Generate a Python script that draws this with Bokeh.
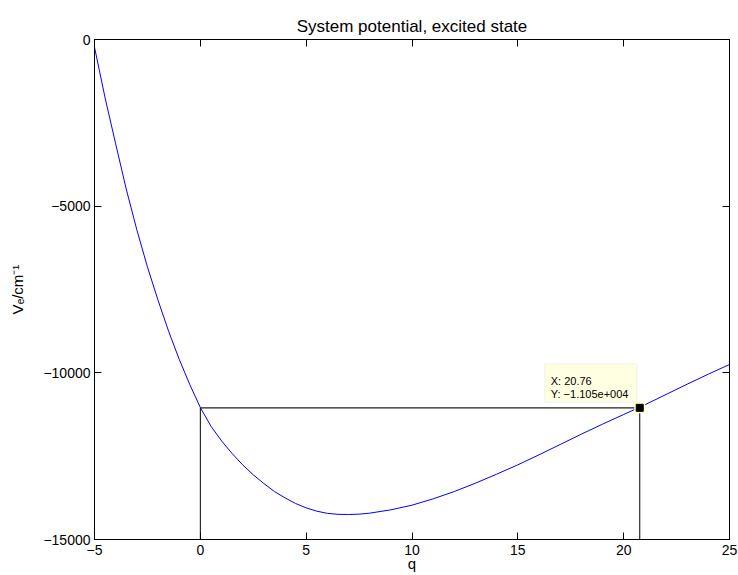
import math
from bokeh.plotting import figure
from bokeh.models import Range1d, FixedTicker, LinearAxis, Label, BoxAnnotation
from bokeh.embed import file_html
from bokeh.resources import INLINE

# ---- data ----
q_vals = [-5, -4.5, -4, -3.5, -3, -2.5, -2, -1.5, -1, -0.5, 0, 0.5, 1, 1.5, 2, 2.5, 3, 3.5,
          4, 4.5, 5, 5.5, 6, 6.5, 7, 7.5, 8, 9, 10, 11, 12, 13, 14, 15, 16, 17, 18, 19, 20,
          21, 22, 23, 24, 25]
v_vals = [-230, -1750, -3130, -4490, -5710, -6820, -7820, -8750, -9590, -10350, -11040,
          -11600, -12040, -12420, -12760, -13060, -13320, -13560, -13750, -13920, -14050,
          -14150, -14215, -14245, -14250, -14240, -14210, -14110, -13970, -13780, -13560,
          -13310, -13040, -12760, -12460, -12150, -11840, -11540, -11250, -10960, -10650,
          -10340, -10040, -9750]

tip_x = 20.76
tip_y = -11050
ref_x = 0

x_ticks = [-5, 0, 5, 10, 15, 20, 25]
x_tick_labels = ["\u22125", "0", "5", "10", "15", "20", "25"]
y_ticks = [-15000, -10000, -5000, 0]
y_tick_labels = ["\u221215000", "\u221210000", "\u22125000", "0"]

title_text = "System potential, excited state"
xlabel_text = "q"
ylabel_text = "V\u2091/cm\u207b\u00b9"

# ---- layout ----
W, H = 738, 575
L, R, T, B = 94, 9, 39, 36
X0, X1 = -5, 25
Y0, Y1 = -15000, 0
fw = W - L - R
fh = H - T - B
FONT = "Liberation Sans"


def dx(px):
    return X0 + (px - L) * (X1 - X0) / fw


def dy(py):
    return Y1 - (py - T) * (Y1 - Y0) / fh


def tpx(x):
    return L + (x - X0) * fw / (X1 - X0)


def tpy(y):
    return T + (Y1 - y) * fh / (Y1 - Y0)


p = figure(width=W, height=H, x_range=Range1d(X0, X1), y_range=Range1d(Y0, Y1),
           output_backend="svg", toolbar_location=None, title=title_text,
           min_border_left=L, min_border_right=R, min_border_top=T, min_border_bottom=B)
p.background_fill_color = "white"
p.border_fill_color = "white"
p.outline_line_color = "black"
p.outline_line_width = 1
p.xgrid.visible = False
p.ygrid.visible = False

p.title.align = "center"
p.title.text_font = FONT
p.title.text_font_size = "17px"
p.title.text_font_style = "normal"
p.title.text_color = "black"
p.title.standoff = 8


def style_axis(ax, ticks, labels, standoff):
    ax.ticker = FixedTicker(ticks=ticks)
    ax.major_label_overrides = {t: s for t, s in zip(ticks, labels)}
    ax.major_tick_in = 7
    ax.major_tick_out = 0
    ax.minor_tick_in = 0
    ax.minor_tick_out = 0
    ax.axis_line_color = "black"
    ax.major_tick_line_color = "black"
    ax.major_label_text_font = FONT
    ax.major_label_text_font_size = "14px"
    ax.major_label_text_color = "black"
    ax.major_label_standoff = standoff
    ax.axis_label_text_font = FONT
    ax.axis_label_text_font_style = "normal"
    ax.axis_label_text_color = "black"


xa = p.xaxis[0]
style_axis(xa, x_ticks, x_tick_labels, 5)
xa.axis_label = xlabel_text
xa.axis_label_text_font_size = "15px"
xa.axis_label_standoff = -3

ya = p.yaxis[0]
style_axis(ya, y_ticks, y_tick_labels, 4)
ya.axis_label = ylabel_text
ya.axis_label_text_font_size = "15px"
ya.axis_label_standoff = 14

top_ax = LinearAxis()
style_axis(top_ax, x_ticks, ["" for _ in x_ticks], 0)
top_ax.major_label_text_font_size = "0px"
p.add_layout(top_ax, "above")

right_ax = LinearAxis()
style_axis(right_ax, y_ticks, ["" for _ in y_ticks], 0)
right_ax.major_label_text_font_size = "0px"
p.add_layout(right_ax, "right")

# ---- curve ----
p.line(q_vals, v_vals, line_color="#0000FF", line_width=1)

# ---- guide lines to the data tip ----
p.line([ref_x, ref_x], [Y0, tip_y], line_color="black", line_width=1)
p.line([ref_x, tip_x], [tip_y, tip_y], line_color="#202020", line_width=1.3)
p.line([tip_x, tip_x], [Y0, tip_y], line_color="black", line_width=1)

# ---- data tip ----
px_tip, py_tip = tpx(tip_x), tpy(tip_y)
box = BoxAnnotation(left=dx(px_tip - 95), right=dx(px_tip - 3), top=dy(py_tip - 44),
                    bottom=dy(py_tip - 6), fill_color="#FFFFE1", fill_alpha=1.0,
                    line_color="#CFCFCF", line_width=1, level="overlay")
p.add_layout(box)

p.scatter([tip_x], [tip_y], marker="square", size=11, fill_color="#FFFFC4", line_color=None)
p.scatter([tip_x], [tip_y], marker="square", size=7, fill_color="black", line_color="black")


def matlab_e(v):
    e = int(math.floor(math.log10(abs(v))))
    m = v / 10 ** e
    sign = "\u2212" if m < 0 else ""
    return f"{sign}{abs(m):.3f}e{'+' if e >= 0 else '-'}{abs(e):03d}"


tip_lines = [f"X: {tip_x:.2f}", f"Y: {matlab_e(tip_y)}"]
for i, t in enumerate(tip_lines):
    p.add_layout(Label(x=dx(px_tip - 89), y=dy(py_tip - 27 + 13 * i), text=t,
                       text_font=FONT, text_font_size="11px", text_color="black",
                       text_align="left", text_baseline="alphabetic", level="overlay"))

open("out.html", "w").write(file_html(p, INLINE))
